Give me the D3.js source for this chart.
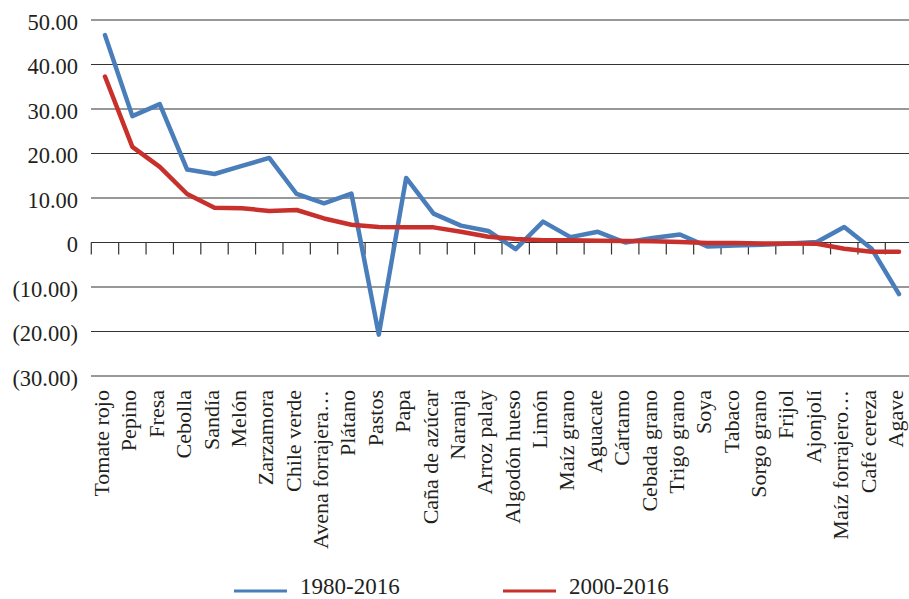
<!DOCTYPE html>
<html>
<head>
<meta charset="utf-8">
<script src="https://cdn.jsdelivr.net/npm/d3@7"></script>
<style>
  body { margin: 0; background: #fff; }
  svg text { font-family: "Liberation Serif", "DejaVu Serif", serif; fill: #231f20; }
</style>
</head>
<body>
<div id="chart"></div>
<script>
// data
const categories = ["Tomate rojo","Pepino","Fresa","Cebolla","Sandía","Melón","Zarzamora","Chile verde",
	"Avena forrajera…","Plátano","Pastos","Papa","Caña de azúcar","Naranja","Arroz palay","Algodón hueso",
	"Limón","Maíz grano","Aguacate","Cártamo","Cebada grano","Trigo grano","Soya","Tabaco","Sorgo grano",
	"Frijol","Ajonjolí","Maíz forrajero…","Café cereza","Agave"];

const serie1980 = [46.6,28.4,31.1,16.4,15.4,17.2,19.0,10.9,8.8,11.0,-20.7,14.5,6.5,3.8,2.6,-1.5,
	4.7,1.2,2.4,0.0,1.0,1.8,-0.9,-0.7,-0.5,-0.2,0.1,3.5,-1.4,-11.6];

const serie2000 = [37.3,21.5,17.0,10.9,7.8,7.7,7.1,7.3,5.4,4.0,3.5,3.4,3.4,2.4,1.3,0.8,
	0.5,0.5,0.4,0.35,0.3,0.1,-0.1,-0.1,-0.2,-0.2,-0.3,-1.4,-2.1,-2.1];

const yTicks = [50,40,30,20,10,0,-10,-20,-30];

const seriesNames = ["1980-2016","2000-2016"];

// set up
const w = 909;
const h = 599;
const colors = ["#4a7ebb","#c8302c"];

const svg = d3.select("#chart").append("svg")
	.attr("width", w)
	.attr("height", h);

const x = d3.scaleBand()
	.domain(categories)
	.range([91.3, 912.7]);

const y = d3.scaleLinear()
	.domain([-30, 50])
	.range([376, 20]);

const cx = d => x(d) + x.bandwidth()/2;

// gridlines
svg.append("g")
	.selectAll("line")
	.data(yTicks)
	.enter()
	.append("line")
	.attr("x1", 91)
	.attr("x2", w)
	.attr("y1", d=>y(d))
	.attr("y2", d=>y(d))
	.attr("stroke", "#333")
	.attr("stroke-width", 1.2);

// y labels
const fmt = v => v === 0 ? "0" : v > 0 ? v.toFixed(2) : "(" + Math.abs(v).toFixed(2) + ")";
const yAxis = svg.append("g")
	.attr("transform", "translate(78,2)")
	.call(d3.axisLeft(y).tickValues(yTicks).tickSize(0).tickPadding(0).tickFormat(fmt));
yAxis.select(".domain").remove();
yAxis.selectAll("text")
	.style("font-family", "'Liberation Serif', serif")
	.attr("font-size", 22.5)
	.attr("fill", "#231f20");

// category ticks
const tickPos = categories.map(d=>x(d)).concat([x.range()[1]]);
svg.append("g")
	.selectAll("line")
	.data(tickPos)
	.enter()
	.append("line")
	.attr("x1", d=>d)
	.attr("x2", d=>d)
	.attr("y1", y(0))
	.attr("y2", y(0) + 12)
	.attr("stroke", "#333")
	.attr("stroke-width", 1.2);

// category labels
svg.append("g")
	.selectAll("text")
	.data(categories)
	.enter()
	.append("text")
	.attr("transform", d=>`translate(${cx(d)+4},390) rotate(-90)`)
	.attr("text-anchor", "end")
	.attr("font-size", 22)
	.text(d=>d);

// lines
const line = d3.line()
	.x((d,i)=>cx(categories[i]))
	.y(d=>y(d));

svg.append("g")
	.selectAll("path")
	.data([serie1980, serie2000])
	.enter()
	.append("path")
	.attr("d", line)
	.attr("fill", "none")
	.attr("stroke", (d,i)=>colors[i])
	.attr("stroke-width", 4.5)
	.attr("stroke-linejoin", "round")
	.attr("stroke-linecap", "round");

// legend
const legend = svg.append("g")
	.selectAll("g")
	.data(seriesNames)
	.enter()
	.append("g")
	.attr("transform", (d,i)=>`translate(${234 + i*269},591)`);

legend.append("line")
	.attr("x1", 0)
	.attr("x2", 53)
	.attr("stroke", (d,i)=>colors[i])
	.attr("stroke-width", 3);

legend.append("text")
	.attr("x", 66)
	.attr("y", 3)
	.attr("font-size", 23)
	.text(d=>d);
</script>
</body>
</html>
